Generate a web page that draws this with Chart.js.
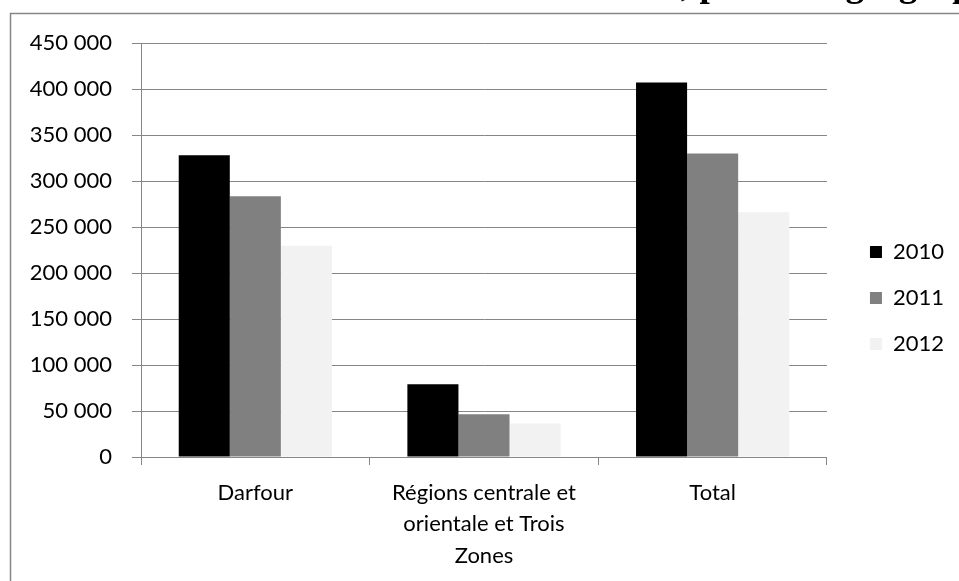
<!DOCTYPE html>
<html>
<head>
<meta charset="utf-8">
<script src="https://cdn.jsdelivr.net/npm/chart.js@4/dist/chart.umd.min.js"></script>
<style>
  body { margin: 0; background: #fff; }
  #wrap { width: 959px; height: 581px; }
</style>
</head>
<body>
<div id="wrap"><canvas id="myChart" width="959" height="581"></canvas></div>
<script>
// data
const categories = ['Darfour', ['Régions centrale et', 'orientale et Trois', 'Zones'], 'Total'];
const years = ['2010', '2011', '2012'];
const v2010 = [328000, 79000, 407000];
const v2011 = [283500, 46500, 330000];
const v2012 = [229500, 36500, 266000];
const yTicks = { min: 0, max: 450000, step: 50000 };

const grey = '#868686';
const font = 'Lato';

// thousands with a space, like "450 000"
function fmt(v) {
  return String(v).replace(/\B(?=(\d{3})+(?!\d))/g, ' ');
}

// frame of the pasted chart + the cut-off heading above it
const frame = {
  id: 'frame',
  beforeDraw(chart) {
    const c = chart.ctx;
    c.save();
    c.fillStyle = '#fff';
    c.fillRect(0, 0, chart.width, chart.height);
    c.fillStyle = '#000';
    c.font = 'bold 37px "Liberation Serif", serif';
    c.textBaseline = 'alphabetic';
    c.textAlign = 'left';
    c.fillText(', par zone géographique', 681, -4);
    c.strokeStyle = grey;
    c.lineWidth = 1.5;
    c.beginPath();
    c.moveTo(10.5, chart.height);
    c.lineTo(10.5, 13.5);
    c.lineTo(chart.width, 13.5);
    c.stroke();
    c.restore();
  }
};

const ctx = document.getElementById('myChart').getContext('2d');
const myChart = new Chart(ctx, {
  type: 'bar',
  data: {
    labels: categories,
    datasets: [
      { label: years[0], data: v2010, backgroundColor: '#000000', borderWidth: 0 },
      { label: years[1], data: v2011, backgroundColor: '#808080', borderWidth: 0 },
      { label: years[2], data: v2012, backgroundColor: '#f2f2f2', borderWidth: 0 }
    ]
  },
  options: {
    responsive: false,
    animation: false,
    devicePixelRatio: 1,
    categoryPercentage: 0.67,
    barPercentage: 1.0,
    layout: { padding: { left: 0, top: 15, right: 5, bottom: 0 } },
    plugins: {
      // empty spacer above the plot (keeps legend spanning the full height)
      title: {
        display: true,
        text: ' ',
        fullSize: false,
        padding: 0,
        font: { family: font, size: 20, lineHeight: 1.4 }
      },
      tooltip: { enabled: false },
      legend: {
        position: 'right',
        align: 'center',
        labels: {
          boxWidth: 12,
          boxHeight: 12,
          padding: 24,
          color: '#000',
          font: { family: font, size: 22 }
        }
      }
    },
    scales: {
      x: {
        grid: {
          offset: true,
          drawOnChartArea: false,
          drawTicks: true,
          tickLength: 8,
          color: grey
        },
        border: { display: true, color: grey, width: 1 },
        ticks: {
          autoSkip: false,
          maxRotation: 0,
          padding: 12,
          color: '#000',
          font: { family: font, size: 22, lineHeight: 1.43 }
        },
        afterFit(s) { s.height = 124; }
      },
      y: {
        min: yTicks.min,
        max: yTicks.max,
        grid: { color: grey, drawTicks: true, tickLength: 9, lineWidth: 1 },
        border: { display: true, color: grey, width: 1 },
        ticks: {
          stepSize: yTicks.step,
          padding: 20,
          color: '#000',
          font: { family: font, size: 22 },
          callback: (v) => fmt(v)
        },
        afterFit(s) { s.width = 141; }
      },
      // empty spacer between plot and legend
      y2: {
        type: 'linear',
        position: 'right',
        display: true,
        grid: { display: false },
        border: { display: false },
        ticks: { display: false },
        afterFit(s) { s.width = 19; }
      }
    }
  },
  plugins: [frame]
});
</script>
</body>
</html>
